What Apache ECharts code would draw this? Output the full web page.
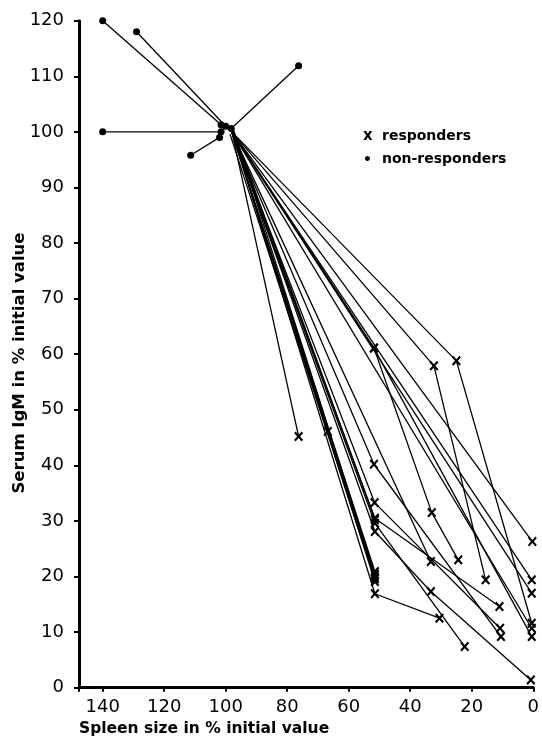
<!DOCTYPE html>
<html><head><meta charset="utf-8">
<script src="https://cdn.jsdelivr.net/npm/echarts@6/dist/echarts.min.js"></script>
<style>html,body{margin:0;padding:0;background:#fff}#c{width:542px;height:738px}</style>
</head><body><div id="c"></div>
<script>
// Spleen size (% initial) , Serum IgM (% initial) paths per patient
const nonResponders = [
  [[101.5,101.3],[140,120]],
  [[100,101],[129,118]],
  [[101.5,100],[140,100]],
  [[102,99],[111.4,95.8]],
  [[98.2,100.6],[76.3,111.9]]
];
const responders = [
  [[98,100],[76.3,45.2]],
  [[98,100],[66.8,46.1]],
  [[98,100],[51.8,61.1],[33,31.5],[24.4,23]],
  [[98,100],[51.8,61.1],[0.5,9.2]],
  [[98,100],[32.3,57.9],[15.5,19.4]],
  [[98,100],[25,58.8],[0.5,11.6]],
  [[98,100],[51.8,40.2],[10.5,9.2]],
  [[98,100],[51.6,33.3],[10.8,10.7]],
  [[98,100],[51.5,30.5],[11,14.6]],
  [[98,100],[51.5,29.6],[22.3,7.4]],
  [[98,100],[51.5,28.1],[33.3,17.3],[0.8,1.4]],
  [[98,100],[51.5,20.9]],
  [[97.5,100.4],[51.5,20.4]],
  [[98,100],[51.5,20]],
  [[98.6,99.6],[51.5,19.6]],
  [[98,100],[51.5,19.1]],
  [[98,100],[51.5,16.9],[30.5,12.5]],
  [[97.6,100.3],[51.5,30.2]],
  [[98,100],[33.3,22.7]],
  [[98,100],[0.3,26.3]],
  [[98,100],[0.5,19.4]],
  [[98,100],[0.5,17]],
  [[98,100],[0.5,10.7]]
];
const xTickValues = [0,20,40,60,80,100,120,140];
const yTickValues = [0,10,20,30,40,50,60,70,80,90,100,110,120];
const legendLabels = ['responders','non-responders'];
const xTitle = 'Spleen size in % initial value';
const yTitle = 'Serum IgM in % initial value';

const FONT = '"DejaVu Sans", sans-serif';
const xPath = 'path://M0,1.6L1.6,0L5,3.4L8.4,0L10,1.6L6.6,5L10,8.4L8.4,10L5,6.6L1.6,10L0,8.4L3.4,5Z';

const series = [];
responders.forEach(p => series.push({
  type:'line', name:'responders', silent:true, z:3,
  data: p.map((pt,i) => i === 0 ? {value:pt, symbol:'none'} : {value:pt}),
  symbol: xPath, symbolSize:[9,10], showSymbol:true,
  lineStyle:{color:'#000', width:1.3}, itemStyle:{color:'#000'}
}));
nonResponders.forEach(p => series.push({
  type:'line', name:'non-responders', silent:true, z:3,
  data: p.map(pt => ({value:pt})),
  symbol:'circle', symbolSize:7, showSymbol:true,
  lineStyle:{color:'#000', width:1.3}, itemStyle:{color:'#000'}
}));

const chart = echarts.init(document.getElementById('c'), null, {renderer:'canvas'});
chart.setOption({
  animation:false,
  backgroundColor:'#fff',
  grid:{left:79, right:4.5, top:20.7, bottom:50.3, containLabel:false},
  xAxis:{
    type:'value', inverse:true, min:0, max:147.7, interval:20,
    axisLine:{show:true, onZero:false, lineStyle:{color:'#000', width:3}},
    axisTick:{show:true, length:4, lineStyle:{color:'#000', width:2}},
    axisLabel:{color:'#000', fontFamily:FONT, fontSize:18, margin:11,
      formatter: v => xTickValues.includes(v) ? String(v) : ''},
    splitLine:{show:false}
  },
  yAxis:{
    type:'value', min:0, max:120, interval:10,
    axisLine:{show:true, onZero:false, lineStyle:{color:'#000', width:3}},
    axisTick:{show:true, length:5, lineStyle:{color:'#000', width:2}},
    axisLabel:{color:'#000', fontFamily:FONT, fontSize:18, margin:15,
      formatter: v => yTickValues.includes(v) ? String(v) : ''},
    splitLine:{show:false}
  },
  graphic:[
    {type:'text', x:363, y:136, style:{text:'x', font:'bold 15px '+FONT, fill:'#000', verticalAlign:'middle'}},
    {type:'text', x:382, y:136, style:{text:legendLabels[0], font:'bold 14px '+FONT, fill:'#000', verticalAlign:'middle'}},
    {type:'text', x:367.5, y:160, style:{text:'•', font:'bold 14px '+FONT, fill:'#000', align:'center', verticalAlign:'middle'}},
    {type:'text', x:382, y:159, style:{text:legendLabels[1], font:'bold 14px '+FONT, fill:'#000', verticalAlign:'middle'}},
    {type:'text', x:79, y:729, style:{text:xTitle, font:'bold 15.5px '+FONT, fill:'#000', verticalAlign:'middle'}},
    {type:'text', x:20, y:363, rotation:Math.PI/2, style:{text:yTitle, font:'bold 16.5px '+FONT, fill:'#000', align:'center', verticalAlign:'middle'}}
  ],
  series: series
});
</script>
</body></html>
